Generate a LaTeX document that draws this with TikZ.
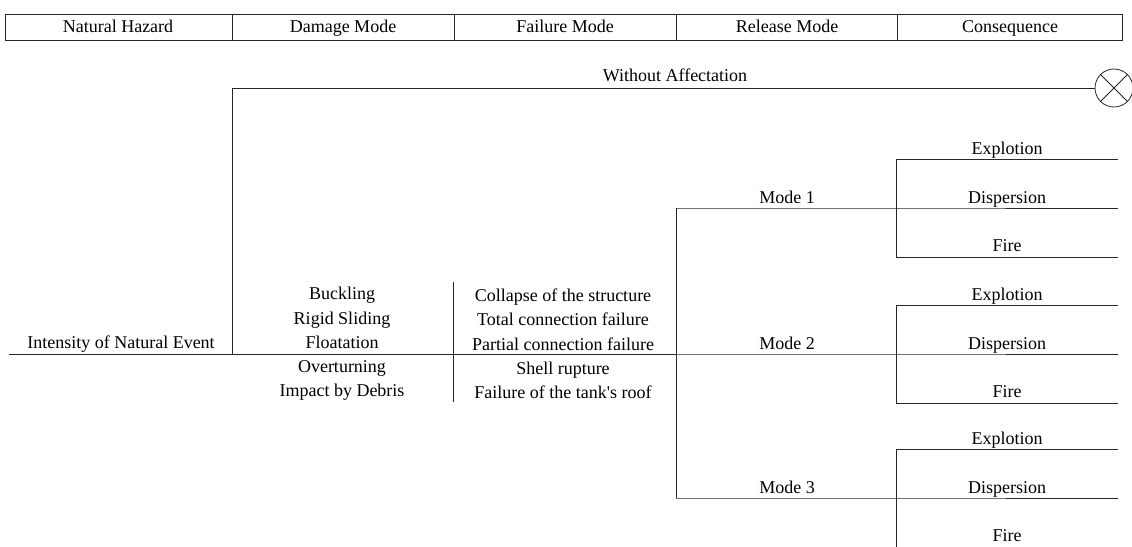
\documentclass[tikz,border=0pt]{standalone}
\usepackage{fontspec}
\setmainfont{Liberation Serif}

\begin{document}
\begin{tikzpicture}[x=1pt,y=-1pt]
            \tikzstyle{every node}+=[inner sep=0pt, font=\fontsize{18}{24.3}\selectfont]
            \tikzstyle{branch}=[black!85, line width=0.8pt]
            \useasboundingbox (0,0) rectangle (1132,546);
            % header row
            \draw [branch] (5,14) rectangle (1122,40);
            \foreach \x in {232,454,676,897}
              \draw [branch] (\x,14) -- (\x,40);
            \node [anchor=base] (hHazard) at (118,32) {Natural Hazard};
            \node [anchor=base] (hDamage) at (343,32) {Damage Mode};
            \node [anchor=base] (hFailure) at (565,32) {Failure Mode};
            \node [anchor=base] (hRelease) at (787,32) {Release Mode};
            \node [anchor=base] (hConseq) at (1010,32) {Consequence};
            % junctions of the tree
            \coordinate (root) at (9,354);
            \coordinate (split) at (232,354);
            \coordinate (splitTop) at (232,88);
            \coordinate (sepTop) at (453,282);
            \coordinate (sepBot) at (453,402);
            \coordinate (modes) at (676,354);
            \coordinate (mode1) at (676,208);
            \coordinate (mode3) at (676,498);
            \node [circle, draw, black!85, line width=0.8pt, minimum size=38pt] (none) at (1114,88) {};
            \draw [branch] (none.north west) -- (none.south east);
            \draw [branch] (none.north east) -- (none.south west);
            \draw [branch] (root) -- (modes);
            \draw [branch] (split) -- (splitTop) -- (none.west);
            \node [anchor=base] (noAff) at (675,81) {Without Affectation};
            \node [anchor=base] (event) at (121,348) {Intensity of Natural Event};
            % damage and failure modes
            \draw [branch] (sepTop) -- (sepBot);
            \node [align=center] (damage) at (342,344) {Buckling\\Rigid Sliding\\Floatation\\Overturning\\Impact by Debris};
            \node [align=center] (failure) at (563,344) {Collapse of the structure\\Total connection failure\\Partial connection failure\\Shell rupture\\Failure of the tank\textquotesingle s roof};
            \draw [branch] (mode1) -- (mode3);
            % release modes and consequences
            \foreach \m/\y in {1/208,2/354,3/498} {
              \coordinate (g\m) at (896,\y);
              \coordinate (g\m top) at (896,\y-48.5);
              \coordinate (g\m bot) at (896,\y+49);
              \coordinate (e\m) at (1118,\y-48.5);
              \coordinate (d\m) at (1118,\y);
              \coordinate (f\m) at (1118,\y+49);
              \draw [branch] (676,\y) -- (g\m) -- (d\m);
              \draw [branch] (e\m) -- (g\m top) -- (g\m bot) -- (f\m);
              \node [anchor=base] (rel\m) at (787,\y-5) {Mode \m};
              \node [anchor=base] (expl\m) at (1007,\y-53.5) {Explotion};
              \node [anchor=base] (disp\m) at (1007,\y-5) {Dispersion};
              \node [anchor=base] (fire\m) at (1007,\y+43.5) {Fire};
            }
          \end{tikzpicture}
\end{document}
